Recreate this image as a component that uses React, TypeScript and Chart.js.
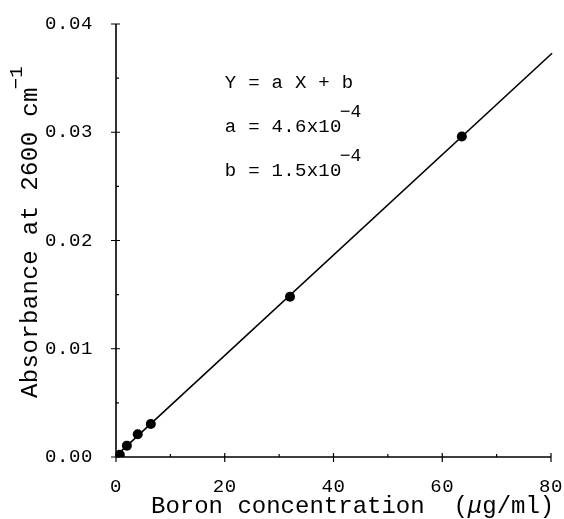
import React, { useEffect, useRef } from 'react';
import { Chart, registerables } from 'chart.js';
Chart.register(...registerables);

// ---- data ----
const concX = [0.7, 2.0, 4.0, 6.4, 32.0, 63.6];
const absY = [0.0002, 0.00105, 0.0021, 0.00305, 0.0148, 0.0296];
const fitX = [0, 80.2];
const fitY = [0.0001, 0.0373];
const xTicks = [0, 20, 40, 60, 80];
const yTicks = [0, 0.01, 0.02, 0.03, 0.04];
const xMinor = [10, 30, 50, 70];
const yMinor = [0.005, 0.015, 0.025, 0.035];
const xTitleParts = ['Boron concentration  (', 'μ', 'g/ml)'];
const yTitle = 'Absorbance at 2600 cm';
const ySup = '−1';
const eqLines = ['Y = a X + b', 'a = 4.6x10', 'b = 1.5x10'];
const eqSups = ['', '−4', '−4'];
const eqX = 20.0;
const eqY = [0.0341, 0.03004, 0.026];

const MONO = '"Liberation Mono", "DejaVu Sans Mono", monospace';

const axesPlugin = {
  id: 'customAxes',
  beforeDraw(chart: any) {
    chart.ctx.letterSpacing = '0.6px';
  },
  afterDatasetsDraw(chart: any) {
    const { ctx } = chart;
    const xs = chart.scales.x;
    const ys = chart.scales.y;
    const x0 = xs.getPixelForValue(xTicks[0]);
    const x1 = xs.getPixelForValue(xTicks[xTicks.length - 1]);
    const y0 = ys.getPixelForValue(yTicks[0]);
    const y1 = ys.getPixelForValue(yTicks[yTicks.length - 1]);
    ctx.save();
    ctx.strokeStyle = '#000';
    ctx.lineWidth = 1.6;
    ctx.beginPath();
    ctx.moveTo(x0, y0);
    ctx.lineTo(x1, y0);
    ctx.moveTo(x0, y0);
    ctx.lineTo(x0, y1);
    ctx.stroke();
    ctx.lineWidth = 1.2;
    ctx.beginPath();
    xTicks.forEach((v) => {
      const p = xs.getPixelForValue(v);
      ctx.moveTo(p, y0 - 4);
      ctx.lineTo(p, y0 + 5);
    });
    yTicks.forEach((v) => {
      const p = ys.getPixelForValue(v);
      ctx.moveTo(x0 - 5, p);
      ctx.lineTo(x0 + 4, p);
    });
    xMinor.forEach((v) => {
      const p = xs.getPixelForValue(v);
      ctx.moveTo(p, y0);
      ctx.lineTo(p, y0 - 3);
    });
    yMinor.forEach((v) => {
      const p = ys.getPixelForValue(v);
      ctx.moveTo(x0, p);
      ctx.lineTo(x0 + 3, p);
    });
    ctx.stroke();
    ctx.restore();
  },
  afterDraw(chart: any) {
    const { ctx } = chart;
    const xs = chart.scales.x;
    const ys = chart.scales.y;
    ctx.save();
    ctx.fillStyle = '#000';
    ctx.textBaseline = 'alphabetic';
    ctx.textAlign = 'left';

    // x title
    ctx.letterSpacing = '0px';
    let cx = 151;
    const by = 513;
    xTitleParts.forEach((t, i) => {
      ctx.font = (i === 1 ? 'italic ' : '') + '24px ' + MONO;
      ctx.fillText(t, cx, by);
      cx += ctx.measureText(t).width;
    });

    // y title (rotated)
    ctx.save();
    ctx.translate(37, 398);
    ctx.rotate(-Math.PI / 2);
    ctx.font = '24px ' + MONO;
    ctx.letterSpacing = '0.4px';
    ctx.fillText(yTitle, 0, 0);
    const w = ctx.measureText(yTitle).width;
    ctx.font = '19px ' + MONO;
    ctx.letterSpacing = '0px';
    ctx.fillText(ySup, w - 2, -15);
    ctx.restore();

    // equation annotation
    eqLines.forEach((t, i) => {
      const px = xs.getPixelForValue(eqX);
      const py = ys.getPixelForValue(eqY[i]);
      ctx.font = '19px ' + MONO;
      ctx.letterSpacing = '0.3px';
      ctx.fillText(t, px, py);
      if (eqSups[i]) {
        const tw = ctx.measureText(t).width;
        ctx.font = '18px ' + MONO;
        ctx.letterSpacing = '0px';
        ctx.fillText(eqSups[i], px + tw - 2, py - 15);
      }
    });
    ctx.restore();
    ctx.letterSpacing = '0px';
  },
};

export default function App() {
  const ref = useRef<HTMLCanvasElement | null>(null);
  useEffect(() => {
    if (!ref.current) return;
    const chart = new Chart(ref.current, {
      type: 'scatter',
      data: {
        datasets: [
          {
            label: 'fit',
            data: fitX.map((x, i) => ({ x, y: fitY[i] })),
            showLine: true,
            borderColor: '#000',
            borderWidth: 1.6,
            pointRadius: 0,
            clip: false,
          } as any,
          {
            label: 'data',
            data: concX.map((x, i) => ({ x, y: absY[i] })),
            showLine: false,
            pointRadius: 5,
            pointBackgroundColor: '#000',
            pointBorderColor: '#000',
            pointBorderWidth: 0,
          },
        ],
      },
      options: {
        responsive: false,
        animation: false,
        events: [],
        layout: { padding: { top: 24, right: 13, left: 0, bottom: 0 } },
        plugins: { legend: { display: false }, tooltip: { enabled: false } },
        scales: {
          x: {
            type: 'linear',
            min: 0,
            max: 80,
            grid: { display: false },
            border: { display: false },
            afterBuildTicks: (s: any) => {
              s.ticks = xTicks.map((v) => ({ value: v }));
            },
            afterFit: (s: any) => {
              s.height = 62;
              s.paddingLeft = 0;
              s.paddingRight = 0;
            },
            ticks: {
              color: '#000',
              padding: 11,
              maxRotation: 0,
              font: { family: MONO, size: 19 },
              callback: (v: any) => String(v),
            },
          },
          y: {
            type: 'linear',
            min: 0,
            max: 0.04,
            grid: { display: false },
            border: { display: false },
            afterBuildTicks: (s: any) => {
              s.ticks = yTicks.map((v) => ({ value: v }));
            },
            afterFit: (s: any) => {
              s.width = 116;
              s.paddingTop = 0;
              s.paddingBottom = 0;
            },
            ticks: {
              color: '#000',
              padding: 15,
              font: { family: MONO, size: 19 },
              callback: (v: any) => Number(v).toFixed(2),
            },
          },
        },
      },
      plugins: [axesPlugin],
    });
    return () => chart.destroy();
  }, []);
  return (
    <div style={{ position: 'absolute', left: 0, top: 0, width: 564, height: 519, background: '#fff' }}>
      <canvas ref={ref} width={564} height={519} />
    </div>
  );
}
